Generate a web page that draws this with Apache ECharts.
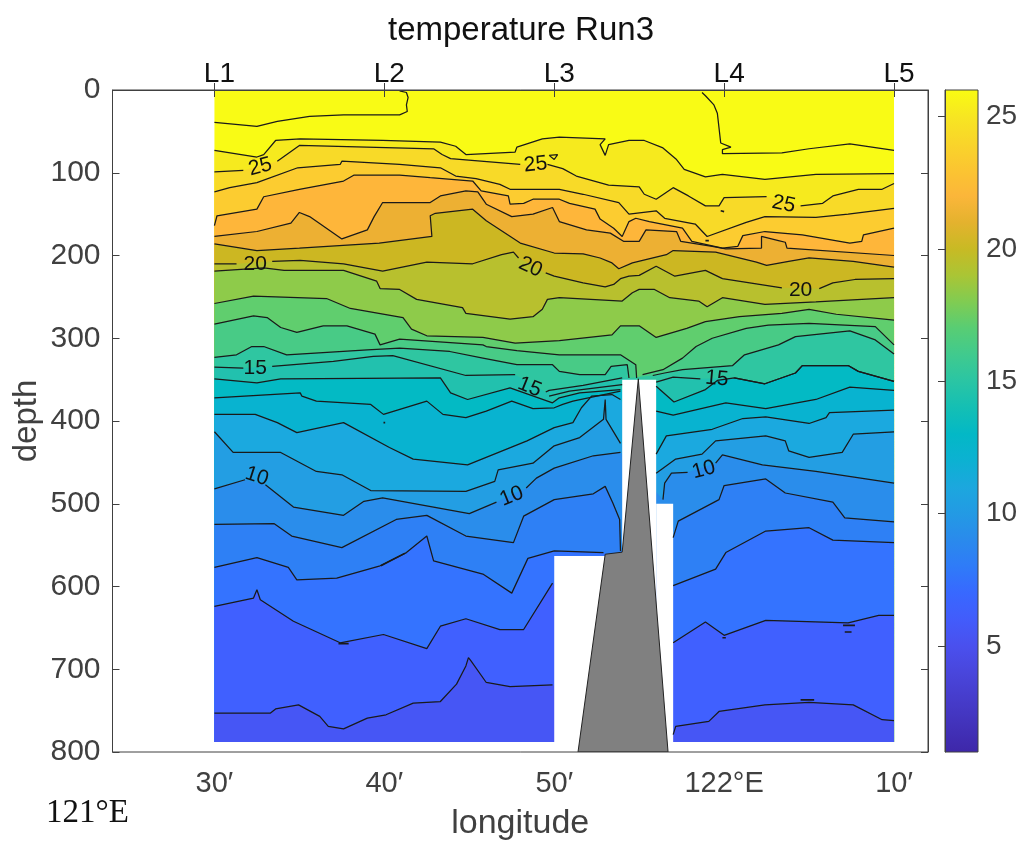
<!DOCTYPE html>
<html><head><meta charset="utf-8">
<style>html,body{margin:0;padding:0;background:#fff}#c{width:1023px;height:845px}</style>
<script src="https://cdn.jsdelivr.net/npm/echarts@6/dist/echarts.min.js"></script>
</head><body><div id="c"></div>
<script>
// longitude in minutes past 121°E, depth in metres; null = break in a contour line
const lvl6=[[30,753],[33.3,753],[33.6,748],[34.95,743],[36.2,757],[36.7,769],[37.6,772],[39,759],[40.1,755],[41.7,741],[43.3,739],[44.25,718],[44.8,696],[44.95,686],[45.1,690],[46,716],[47.4,721],[49.9,719],null,[57,779],[57.15,769],[59.1,763],[59.7,751],[62.4,743],[65,740],[67.6,743],[69.3,761],[70,762]];
const lvl7=[[30,624],[32.3,614],[32.5,604],[32.7,616],[34.65,642],[37.4,668],[39.95,658],[42.5,675],[43.3,648],[44.8,639],[46.8,652],[48.2,652],[49.9,596],null,[57,668],[58.9,643],[60,659],[62.45,641],[67.3,644],[69.1,635],[70,635]];
const lvl8=[[30,577],[32.5,565],[34.35,577],[34.85,592],[37.2,590],[39.75,575],[41.3,559],[42.5,539],[42.9,569],[45.8,585],[47.5,608],[48.45,566],[50,557],[52.9,559],null,[57,599],[59.5,579],[60.1,559],[62.45,533],[65,529],[66.4,544],[70,547]];
const lvl9=[[30,525],[33.5,524],[34.55,539],[37.5,553],[40.7,519],[42.5,514],[44.8,539],[47.6,547],[48.2,515],[50,495],[52.3,488],[53,479],[53.45,499],[53.85,519],[53.9,557],null,[57,541],[57.3,521],[59.7,495],[60,478],[62.45,470],[63.6,487],[66.4,498],[67.1,517],[70,522]];
const lvl10=[[30,482],[31.8,471],null,[33,477],[34.65,504],[37.6,514],[38.8,497],[39.9,493],[45,512],[46.6,498],null,[48.35,481],[48.95,469],[50,457],[52.3,442],[53.9,438],null,[56.4,495],[56.5,475],[56.9,463],[57.85,462],null,[59.5,451],[59.9,441],[62.25,453],[65.4,461],[70,475]];
const lvl11=[[30,413],[31.1,438],[33.9,438],[36,461],[37.5,465],[39.2,484],[44.8,485],[46.5,473],[46.7,459],[48.75,451],[50,430],[51.5,420],[52.9,398],[53,374],[53.05,398],[53.9,427],null,[56,463],[57.15,446],[58.7,440],[59.5,424],[62.45,418],[63.6,424],[63.8,436],[65,444],[66.95,438],[67.6,416],[70,413]];
const lvl12=[[30,392],[32.4,392],[33.7,402],[34.85,414],[37.6,402],[40.3,432],[41.7,446],[44.9,453],[48.4,424],[50,408],[51.1,402],[51.6,384],[52.2,370],[53.4,368],[53.9,374],null,[56,440],[56.6,418],[59.3,410],[61.1,397],[62.45,395],[65,403],[66,396],[66.2,390],[70,387]];
const lvl13=[[30,372],[35.05,366],[35.15,370],[36,376],[39.2,380],[39.95,392],[42.5,376],[43.45,392],[44.8,396],[46,388],[47.5,376],[48.75,385],[50,384],[50.5,380],[51.1,376],[53.9,364],null,[56,388],[57,393],[60.1,378],[62.45,385],[65.4,374],[67.4,359],[70,363]];
const lvl14=[[30,349],[32.5,354],[33.9,349],[43.3,348],[43.9,366],[44.9,374],[47.4,360],[49.9,378],[50.3,372],[51.5,366],[53.9,362],null,[56,358],[57.05,377],[58.9,362],[59.6,351],[60.6,348],[62.4,355],[64.2,342],[64.6,333],[67.3,333],[67.9,340],[70,352]];
const lvl15=[[30,335],[31.7,336],null,[33.4,334],[37,328],[39.35,322],[40.5,321],[44.8,345],[47.7,344],null,[49.5,365],[49.7,363],[51.7,357],[54,348],null,[56,353],[57,347],[58.6,349],null,[60.6,348],[62.4,355],[64.2,342],[64.6,333],[67.3,333],[67.9,340],[70,352]];
const lvl16=[[30,323],[31.3,320],[32.2,310],[32.9,310],[34.25,320],[39,314],[40.9,312],[43.85,316],[45.8,324],[47.8,332],[49.9,332],[50.3,340],[51.5,344],[53,344],[53.35,334],[54.3,332],[54.4,348],null,[55.8,345],[56.5,342],[57.55,338],[60.5,333],[61.2,320],[63.2,308],[64.2,298],[67.4,291],[68.9,302],[70,319]];
const lvl17=[[30,283],[32.3,273],[33.1,275],[33.9,287],[34.85,293],[36.4,285],[37.8,285],[39.45,295],[39.75,308],[40.9,301],[45.8,308],[46,310],[47.8,315],[50.3,320],[53.9,320],[54.8,332],[54.85,348],null,[55.2,344],[56.4,338],[57.55,324],[58.35,310],[59.3,300],[61.3,288],[62.6,284],[65,282],[68.9,286],[70,308]];
const lvl18=[[30,258],[32.3,249],[36.6,252],[38,264],[41.1,275],[41.6,289],[42.5,297],[45.8,299],[47.7,306],[50.3,303],[53.4,296],[53.9,285],[55,285],[56,299],[57.8,288],[58.9,280],[60.9,274],[63.4,270],[65,265],[66.6,271],[70,278]];
const lvl19=[[30,219],[32.9,215],[34.1,218],[37.6,218],[39.55,231],[39.75,240],[40.9,241],[41.9,253],[44.6,263],[44.8,270],[47.4,277],[48.75,274],[49.3,265],[49.6,253],[50.3,251],[54,255],[54.6,245],[55,241],[55.9,241],[56.8,251],[58.5,255],[59,262],[59.9,251],[62.4,259],[65.4,256],[70,251]];
const lvl20=[[30,210],[31.3,210],null,[33.4,207],[35.05,206],[37.6,210],[39.9,219],[42.5,208],[45.2,210],[46.9,199],[47.6,196],[47.9,203],null,[49.5,221],[50,225],[51.7,233],[53,238],[53.5,235],[53.9,228],[54.4,225],[55,224],[56,213],[57.1,225],[58.9,218],[59.9,228],[63.4,239],null,[65.6,240],[66.4,233],[67.7,229],[70,228]];
const lvl21=[[30,186],[32.5,194],[35,191],[39.7,185],[42.8,177],[42.7,152],[43,149],[45.2,144],[46,158],[48,185],[50,197],[51.7,198],[52.7,203],[53.4,209],[53.8,216],[54.6,209],[56.6,199],[57,194],[59.5,196],[61.9,208],[62.5,212],[63.8,207],[65,203],[67.6,207],[70,214]];
const lvl22=[[30,177],[32.5,171],[34.5,161],[35,148],[35.6,153],[37.5,180],[39,169],[39.4,153],[39.9,136],[42.7,136],[43.3,128],[44.8,122],[45.5,123],[46,138],[47.5,153],[48.75,150],[49.9,142],[50.3,159],[51.9,169],[53.3,173],[54.1,183],[55,183],[55.4,169],[57.2,171],[57.45,183],[59.3,189],[60.1,192],[62.2,191],[62.2,177],[63.2,182],[63.6,184],[63.7,191],[70,200]];
const lvl23=[[30,164],[30.15,152],[32.5,144],[32.9,129],[35,120],[37.6,110],[38.2,103],[40.9,103],[42.7,106],[45.2,110],[45.7,122],[47.3,128],[47.4,138],[48.2,137],[48.75,132],[50.3,132],[50.9,137],[52.4,144],[52.7,156],[53.5,167],[54,177],[54.4,159],[54.8,155],[55.6,159],[57.55,167],[58.1,183],[59.9,191],[60.8,189],[61.1,176],[62.4,171],[64.6,175],[67.4,185],[68.1,183],[68.2,175],[70,167]];
const lvl24=[[30,123],[30.9,118],[32.5,112],[34.9,94],[37.4,90],[37.5,86],[40.9,90],[43.3,94],[44.2,104],[45.4,107],[46.8,114],[47.4,120],[50.3,120],[51.7,126],[53.8,136],[54.4,150],[56,146],[56.5,155],[58.3,162],[59,177],[61.3,160],[62.4,153],[65.4,154],[67.3,150],[70,143]];
const lvl25=[[30,99],[31.7,97],null,[33.7,86],[35,67],[42.9,71],[43.4,78],[43.9,83],[48,90],null,[49.6,90],[50.5,95],[51.3,104],[53.2,115],[55,117],[55.3,126],[56,132],[57,118],[57.9,128],[58.9,140],[59.7,140],[60,130],[62.5,129],null,[64.5,140],[65.8,137],[66.4,128],[67.9,120],[69.3,120],[70,113]];
const lvl26=[[30,73],[32.5,81],[32.9,78],[33.6,61],[35.05,59],[39.9,61],[43.3,63],[44.2,68],[44.8,78],[47.7,75],[47.8,69],[49.3,59],[50.3,57],[53,59],[52.7,66],[53,79],[53.2,66],[54.4,61],[55.3,61],[56.4,70],[57.2,84],[57.65,96],[58.9,105],[59.9,102],[62.4,108],[65.4,102],[70,101]];

// extra contour pieces that bound no drawn band
const topLeftLine=[[30,39],[32.5,44],[33.7,38],[35.6,32],[37.6,30],[40.9,30],[41.35,26],[41.3,18],[41.4,9],[41.3,3],[40.9,1]];
const topRightLine=[[58.7,3],[58.9,7],[59.4,18],[59.6,28],[59.8,64],[60.4,69],[59.9,72],[59.9,77],[63.4,76],[65,71],[67.4,65],[70,73]];
const smallLoop=[[49.7,79],[50.2,78],[50,84],[49.7,79]];
const sideLine=[[49.7,370],[50.9,364],[54,356]];
const specks=[[[59.8,146],[60,147]],[[58.9,182],[59.1,182]],[[37.3,669],[37.9,669]],[[64.5,737],[65.3,737]],[[67,647],[67.7,647]],[[67.1,655],[67.5,655]],[[59.9,662],[60.1,662]],[[39.95,402],[40.05,402]],[[39.8,575],[41.2,560]]];

const contours=[lvl26,lvl25,lvl24,lvl23,lvl22,lvl21,lvl20,lvl19,lvl18,lvl17,lvl16,lvl15,lvl14,lvl13,lvl12,lvl11,lvl10,lvl9,lvl8,lvl7,lvl6];
const topColor='#F9FB15';
const bandColors=['#F6EA1E','#F8DA28','#FCCC30','#FEB63A','#EDB033','#CCB722','#B8C02E','#8ECB4A','#60CE6E','#48CB86','#2FC6A1','#22C1AE','#03BAC4','#08B3D0','#1BA9DF','#239EE3','#2A8DEB','#2E80F5','#3473FF','#4060FF','#4656F5'];

const maskBoxes=[[50,563,54,800],[54,350,56,800],[56,500,57,800],[29,788,71,800]];
const ridge=[[51.4,800],[53,561],[54,558.5],[54.95,349],[56.7,800]];
const contourLabels=[[32.7,93,'25',15],[32.4,210,'20',0],[32.4,336,'15',0],[32.5,467,'10',-18],[48.9,90,'25',6],[48.6,214,'20',-25],[48.55,359,'15',-22],[47.5,491,'10',22],[63.5,138,'25',-12],[64.5,242,'20',0],[59.57,349,'15',-5],[58.8,459,'10',15]];

const lonTicks=[30,40,50,60,70];
const lonLabels=['30′','40′','50′','122°E','10′'];
const stationLabels=['L1','L2','L3','L4','L5'];
const colorTicks=[5,10,15,20,25];
const colorbarColors=['#3E27A9','#4232BA','#463CCB','#4946DC','#4A50EE','#425CFB','#3868FF','#2F7BF8','#2A8AEC','#239AE4','#1CA7DE','#0CB1D2','#03B8C6','#14BFB4','#2AC5A4','#40CA8E','#58CD74','#80CC52','#AAC535','#C8BA24','#E4B22E','#FBB63A','#FBC531','#F9D52A','#F7E622','#F9FB12'];

const INK='#404040';
const FONT='"Liberation Sans",Arial,sans-serif';
const series=[];
const solid=a=>a.filter(p=>p);
const breaks=a=>a.map((p,i)=>p||[a[i-1][0],null]);
const areaOf=(data,color,z)=>({type:'line',data,symbol:'none',silent:true,z,lineStyle:{width:0},itemStyle:{color},areaStyle:{color,opacity:1,origin:'end'},animation:false,clip:true});
const lineOf=(data,w=1.25)=>({type:'line',data,symbol:'none',silent:true,z:5,connectNulls:false,lineStyle:{color:'#1a1a1a',width:w},itemStyle:{color:'#1a1a1a'},animation:false});

series.push(areaOf([[30,0],[70,0]],topColor,1));
contours.forEach((c,i)=>series.push(areaOf(solid(c),bandColors[i],1)));
series.push({type:'custom',silent:true,z:3,animation:false,clip:true,data:maskBoxes,encode:{x:[0,2],y:[1,3]},renderItem:(p,api)=>{
  const a=api.coord([api.value(0),api.value(1)]),b=api.coord([api.value(2),api.value(3)]);
  return {type:'rect',shape:{x:a[0],y:a[1],width:b[0]-a[0],height:b[1]-a[1]},style:{fill:'#fff'}};
}});
series.push({type:'custom',silent:true,z:4,animation:false,clip:true,data:[0],renderItem:(p,api)=>({type:'polygon',shape:{points:ridge.map(q=>api.coord(q))},style:{fill:'#808080',stroke:'#222',lineWidth:1}})});
contours.forEach(c=>series.push(lineOf(breaks(c))));
[topLeftLine,topRightLine,smallLoop,sideLine].forEach(c=>series.push(lineOf(c)));
specks.forEach(c=>series.push(lineOf(c,1.6)));
series.push({type:'custom',silent:true,z:6,animation:false,clip:false,data:contourLabels,encode:{x:0,y:1},renderItem:(p,api)=>{
  const c=api.coord([api.value(0),api.value(1)]);
  return {type:'text',x:c[0],y:c[1],rotation:api.value(3)*Math.PI/180,style:{text:String(contourLabels[p.dataIndex][2]),fill:'#111',font:'21px '+FONT,textAlign:'center',textVerticalAlign:'middle'}};
}});
// colorbar: one rectangle shaded through the colour list
series.push({type:'custom',xAxisIndex:2,yAxisIndex:1,silent:true,animation:false,data:[[0,1,1,26]],encode:{x:[0,2],y:[1,3]},renderItem:(p,api)=>{
  const a=api.coord([0,api.value(3)]),b=api.coord([1,api.value(1)]);
  const n=colorbarColors.length-1;
  const colorStops=colorbarColors.map((color,i)=>({offset:1-i/n,color})).reverse();
  return {type:'rect',shape:{x:a[0],y:a[1],width:b[0]-a[0],height:b[1]-a[1]},style:{fill:new echarts.graphic.LinearGradient(0,0,0,1,colorStops)}};
}});

const pick=(ticks,labels)=>v=>{const i=ticks.indexOf(v);return i<0?'':labels[i];};
const option={
  animation:false,backgroundColor:'#fff',
  title:{text:'temperature Run3',left:516,top:9,textAlign:'center',textStyle:{color:'#111',fontFamily:FONT,fontWeight:'normal',fontSize:33}},
  grid:[{left:112.5,top:90,width:815.5,height:662,outerBoundsMode:'none',show:true,borderColor:INK,borderWidth:1,backgroundColor:'transparent',z:8},
        {left:945,top:90,width:33,height:662,outerBoundsMode:'none',show:true,borderColor:INK,borderWidth:1,backgroundColor:'transparent',z:8}],
  xAxis:[
   {type:'value',gridIndex:0,min:24,max:72,position:'bottom',z:9,splitLine:{show:false},axisLine:{show:true,lineStyle:{color:INK}},
    axisTick:{show:true,inside:true,length:7,customValues:lonTicks,lineStyle:{color:INK}},
    axisLabel:{customValues:lonTicks,formatter:pick(lonTicks,lonLabels),color:INK,fontFamily:FONT,fontSize:29,margin:17},
    name:'longitude',nameLocation:'middle',nameGap:55,nameMoveOverlap:false,nameTextStyle:{color:INK,fontFamily:FONT,fontSize:34}},
   {type:'value',gridIndex:0,min:24,max:72,position:'top',z:9,splitLine:{show:false},axisLine:{show:true,lineStyle:{color:INK}},
    axisTick:{show:true,inside:true,length:7,customValues:lonTicks,lineStyle:{color:INK}},
    axisLabel:{customValues:lonTicks,formatter:pick(lonTicks,stationLabels),color:'#111',fontFamily:FONT,fontSize:28,margin:2,padding:[0,0,0,10]}},
   {type:'value',gridIndex:1,min:0,max:1,show:false}
  ],
  yAxis:[
   {type:'value',gridIndex:0,min:0,max:800,interval:100,inverse:true,z:9,splitLine:{show:false},axisLine:{show:true,lineStyle:{color:INK}},
    axisTick:{show:true,inside:true,length:7,lineStyle:{color:INK}},
    axisLabel:{color:INK,fontFamily:FONT,fontSize:30,margin:12},
    name:'depth',nameLocation:'middle',nameGap:69,nameMoveOverlap:false,nameTextStyle:{color:INK,fontFamily:FONT,fontSize:33}},
   {type:'value',gridIndex:1,min:1,max:26,position:'right',z:9,splitLine:{show:false},axisLine:{show:true,lineStyle:{color:INK}},
    axisTick:{show:true,inside:true,length:7,customValues:colorTicks,lineStyle:{color:INK}},
    axisLabel:{customValues:colorTicks,color:INK,fontFamily:FONT,fontSize:28,margin:8}},
   {type:'value',gridIndex:0,min:0,max:800,interval:100,inverse:true,position:'right',z:9,splitLine:{show:false},axisLine:{show:true,lineStyle:{color:INK}},
    axisTick:{show:true,inside:true,length:7,lineStyle:{color:INK}},axisLabel:{show:false}}
  ],
  graphic:[{type:'text',left:46,top:797,style:{text:'121°E',fill:'#111',font:'33px "Liberation Serif",serif'}}],
  series
};
echarts.init(document.getElementById('c'),null,{renderer:'canvas'}).setOption(option);
</script></body></html>
